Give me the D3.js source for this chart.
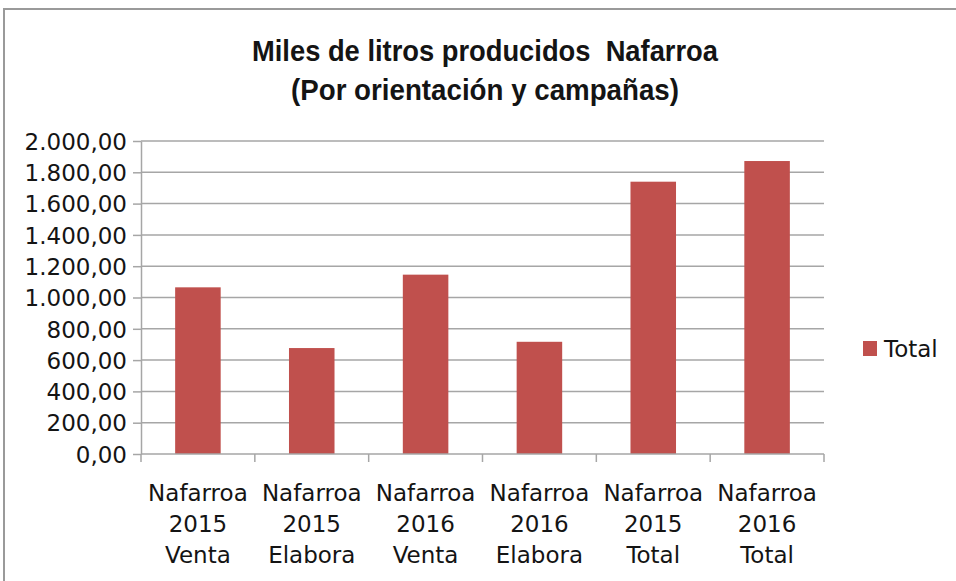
<!DOCTYPE html>
<html>
<head>
<meta charset="utf-8">
<script src="https://cdn.jsdelivr.net/npm/d3@7"></script>
<style>
  body { margin: 0; background: #fff; }
  svg text { fill: #141414; }
</style>
</head>
<body>
<svg id="chart" width="956" height="581"></svg>
<script>
// data
const categories = [
    'Nafarroa 2015 Venta', 'Nafarroa 2015 Elabora',
    'Nafarroa 2016 Venta', 'Nafarroa 2016 Elabora',
    'Nafarroa 2015 Total', 'Nafarroa 2016 Total'
];
const values = [1065, 677, 1146, 717, 1740, 1872];
const yTicks = [0, 200, 400, 600, 800, 1000, 1200, 1400, 1600, 1800, 2000];
const seriesName = 'Total';
const titleLines = ['Miles de litros producidos  Nafarroa', '(Por orientación y campañas)'];
const titleWidths = [466, 388];

const barColor = '#c0504d';
const gridColor = '#a6a6a6';
const font = '"DejaVu Sans", sans-serif';
const titleFont = '"Liberation Sans", sans-serif';

const svg = d3.select('#chart');

// outer frame of the chart object
svg.append('rect')
    .attr('x', 4).attr('y', 9)
    .attr('width', 970).attr('height', 600)
    .attr('fill', '#fff')
    .attr('stroke', '#9a9a9a')
    .attr('stroke-width', 2);

const plot = { left: 141, right: 824, top: 141, bottom: 454 };

const y = d3.scaleLinear().domain([0, 2000]).range([plot.bottom, plot.top]);
const x = d3.scaleBand()
    .domain(categories)
    .range([plot.left, plot.right])
    .paddingInner(0.6)
    .paddingOuter(0.3);

const locale = d3.formatLocale({ decimal: ',', thousands: '.', grouping: [3], currency: ['', '€'] });
const fmt = locale.format(',.2f');

// title (narrow bold look: squeeze to the reference width)
svg.append('g')
    .selectAll('text')
    .data(titleLines)
    .join('text')
    .attr('x', 485)
    .attr('y', (d, i) => 61 + i * 39)
    .attr('text-anchor', 'middle')
    .attr('textLength', (d, i) => titleWidths[i])
    .attr('lengthAdjust', 'spacingAndGlyphs')
    .style('font-family', titleFont)
    .style('font-weight', 'bold')
    .style('font-size', '29px')
    .style('white-space', 'pre')
    .text(d => d);

// gridlines
svg.append('g')
    .selectAll('line')
    .data(yTicks.filter(d => d > 0))
    .join('line')
    .attr('x1', plot.left).attr('x2', plot.right)
    .attr('y1', d => y(d)).attr('y2', d => y(d))
    .attr('stroke', gridColor)
    .attr('stroke-width', 1.5);

// y axis
const yAxis = svg.append('g')
    .attr('transform', `translate(${plot.left},0)`)
    .call(d3.axisLeft(y).tickValues(yTicks).tickSize(8).tickSizeOuter(0).tickPadding(6).tickFormat(fmt));
yAxis.select('.domain').attr('stroke', gridColor).attr('stroke-width', 1.5);
yAxis.selectAll('.tick line').attr('stroke', gridColor).attr('stroke-width', 1.5);
yAxis.selectAll('.tick text')
    .style('font-family', font)
    .style('font-size', '23px')
    .attr('fill', '#141414')
    .attr('dy', '0.36em');

// bars
svg.append('g')
    .selectAll('rect')
    .data(values)
    .join('rect')
    .attr('x', (d, i) => x(categories[i]))
    .attr('y', d => y(d))
    .attr('width', x.bandwidth())
    .attr('height', d => y(0) - y(d))
    .attr('fill', barColor);

// x axis: line with ticks between categories
const xg = svg.append('g');
xg.append('line')
    .attr('x1', plot.left).attr('x2', plot.right)
    .attr('y1', plot.bottom).attr('y2', plot.bottom)
    .attr('stroke', gridColor).attr('stroke-width', 1.5);
xg.selectAll('.tk')
    .data(d3.range(categories.length + 1))
    .join('line')
    .attr('class', 'tk')
    .attr('x1', i => plot.left + i * x.step())
    .attr('x2', i => plot.left + i * x.step())
    .attr('y1', plot.bottom).attr('y2', plot.bottom + 8)
    .attr('stroke', gridColor).attr('stroke-width', 1.5);

xg.selectAll('.lbl')
    .data(categories)
    .join('text')
    .attr('class', 'lbl')
    .attr('text-anchor', 'middle')
    .style('font-family', font)
    .style('font-size', '23px')
    .each(function (d) {
        const cx = x(d) + x.bandwidth() / 2;
        d3.select(this).selectAll('tspan')
            .data(d.split(' '))
            .join('tspan')
            .attr('x', cx)
            .attr('y', (w, i) => 501 + i * 31)
            .text(w => w);
    });

// legend
const lg = svg.append('g').attr('transform', 'translate(863,341)');
lg.append('rect').attr('width', 14).attr('height', 15).attr('fill', barColor);
lg.append('text')
    .attr('x', 21).attr('y', 16)
    .style('font-family', font)
    .style('font-size', '23px')
    .text(seriesName);
</script>
</body>
</html>
